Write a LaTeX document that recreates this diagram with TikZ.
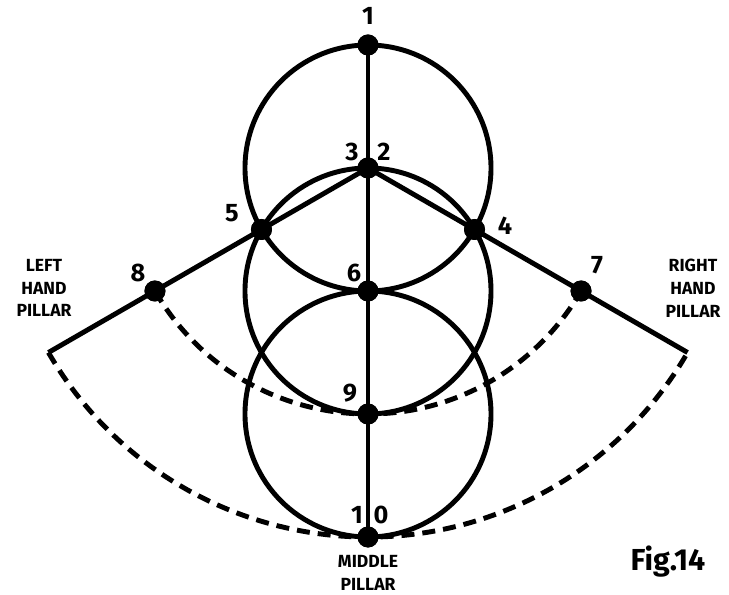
\documentclass[tikz,border=0pt]{standalone}
\usepackage{fontspec}
\setmainfont{Fira Sans}
\usetikzlibrary{calc}
\begin{document}
\begin{tikzpicture}[line width=2.8pt,font=\bfseries]
\tikzstyle{dot}=[circle,fill=black,inner sep=0pt,minimum size=0.42cm]
\tikzstyle{num}=[font=\bfseries\Large,inner sep=0pt]
\tikzstyle{pillarname}=[font=\bfseries\fontsize{10}{13}\selectfont,align=center,inner sep=0pt]
\tikzstyle{arcdash}=[dash pattern=on 0.26cm off 0.16cm]
\def\r{2.46}
\useasboundingbox (-7.36,3.36) rectangle (7.22,-8.54);
% points of the figure, all measured from point 2
\node[dot] (d1) at (90:\r) {}; \node[dot] (d2) at (0,0) {}; \node[dot] (d6) at (270:\r) {};
\node[dot] (d9) at (0,-2*\r) {}; \node[dot] (d10) at (0,-3*\r) {};
\node[dot] (d5) at (210:\r) {}; \node[dot] (d4) at (-30:\r) {};
\node[dot] (d8) at (210:2*\r) {}; \node[dot] (d7) at (-30:2*\r) {};
\coordinate (lend) at (210:3*\r); \coordinate (rend) at (-30:3*\r);
% circles and pillars
\draw (d2.center) circle (\r); \draw (d6.center) circle (\r); \draw (d9.center) circle (\r);
\draw (d1.center) -- (d10.center); \draw (d2.center) -- (lend); \draw (d2.center) -- (rend);
\draw[arcdash] (d8.center) arc[start angle=210,end angle=330,radius=2*\r];
\draw[arcdash] (lend) arc[start angle=210,end angle=330,radius=3*\r];
% redraw the dots over the lines
\foreach \p in {d1,d2,d4,d5,d6,d7,d8,d9,d10} \fill (\p) circle (0.21);
% numbers
\node[num] (n1) at (0,3.04) {1};
\node[num] (n3) at (-0.32,0.32) {3}; \node[num] (n2) at (0.32,0.32) {2};
\node[num] (n5) at (-2.72,-0.9) {5}; \node[num] (n4) at (2.74,-1.16) {4};
\node[num] (n8) at (-4.6,-2.1) {8}; \node[num] (n7) at (4.58,-1.94) {7};
\node[num] (n6) at (-0.28,-2.1) {6}; \node[num] (n9) at (-0.36,-4.5) {9};
\node[num] (n10a) at (-0.22,-6.94) {1}; \node[num] (n10b) at (0.26,-6.94) {0};
% pillar names
\node[pillarname] (lp) at (-6.48,-2.4) {LEFT\\HAND\\PILLAR};
\node[pillarname] (rp) at (6.5,-2.4) {RIGHT\\HAND\\PILLAR};
\node[pillarname] (mp) at (0,-8.1) {MIDDLE\\PILLAR};
\node[font=\bfseries\LARGE] (fig) at (6.0,-7.88) {Fig.14};
\end{tikzpicture}
\end{document}
